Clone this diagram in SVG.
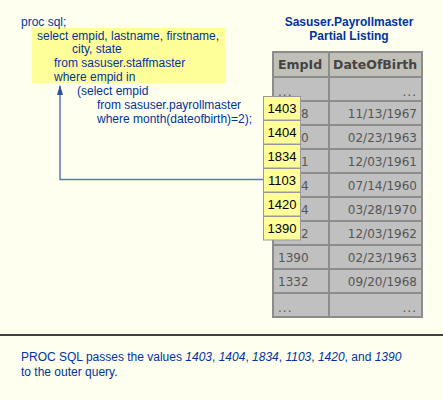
<svg xmlns="http://www.w3.org/2000/svg" width="443" height="400" viewBox="0 0 443 400">
<style>
.code{font-family:"Liberation Sans",Arial,sans-serif;font-size:12px;fill:#0033A0}
.title{font-family:"Liberation Sans",Arial,sans-serif;font-size:12px;font-weight:bold;fill:#0033A0;text-anchor:middle}
.hdr{font-family:"DejaVu Sans",Verdana,sans-serif;font-size:12.5px;font-weight:bold;fill:#444}
.cell{font-family:"DejaVu Sans",Verdana,sans-serif;font-size:12px;fill:#555}
.r{text-anchor:end}
.grid{stroke:#8C8C8C;stroke-width:2;fill:none}
.call rect{fill:#FFFF99;stroke:#999;stroke-width:1}
.call text{font-family:"Liberation Sans",Arial,sans-serif;font-size:13px;fill:#000;text-anchor:middle}
.conn{stroke:#5A78B4;stroke-width:1.5;fill:none}
.note{font-family:"Liberation Sans",Arial,sans-serif;font-size:12px;fill:#0033A0}
</style>
<defs>
<marker id="ah" markerWidth="10" markerHeight="6" refX="9" refY="3" orient="auto" markerUnits="userSpaceOnUse">
<path d="M0,0 L10,3 L0,6 z" fill="#2A50A0"/>
</marker>
</defs>
<rect width="443" height="400" fill="#FFFFF0"/>
<g id="code">
<rect x="32" y="28" width="193" height="55" fill="#FFFF99"/>
<text class="code" x="21" y="26">proc sql;</text>
<text class="code" x="37" y="39.5">select empid, lastname, firstname,</text>
<text class="code" x="72" y="53">city, state</text>
<text class="code" x="54" y="66.5">from sasuser.staffmaster</text>
<text class="code" x="54" y="81">where empid in</text>
<text class="code" x="77" y="95">(select empid</text>
<text class="code" x="97" y="109">from sasuser.payrollmaster</text>
<text class="code" x="97" y="122.5">where month(dateofbirth)=2);</text>
</g>
<g id="table">
<text class="title" x="349" y="26">Sasuser.Payrollmaster</text>
<text class="title" x="349" y="40">Partial Listing</text>
<rect x="273" y="52" width="149" height="25" fill="#C0C0B8"/>
<rect x="273" y="77" width="149" height="240" fill="#C0C0C0"/>
<rect class="grid" x="273" y="52" width="149" height="265"/>
<path class="grid" d="M329,52V317 M273,77H422 M273,101H422 M273,125H422 M273,149H422 M273,173H422 M273,197H422 M273,221H422 M273,245H422 M273,269H422 M273,293H422"/>
<text class="hdr" x="278" y="69">EmpId</text>
<text class="hdr" x="333" y="69">DateOfBirth</text>
<text class="cell" x="278" y="96" letter-spacing="1">...</text><text class="cell r" x="417" y="96" letter-spacing="1">...</text>
<text class="cell" x="301" y="117.5">8</text><text class="cell r" x="417" y="117.5">11/13/1967</text>
<text class="cell" x="301" y="141.5">0</text><text class="cell r" x="417" y="141.5">02/23/1963</text>
<text class="cell" x="301" y="165.5">1</text><text class="cell r" x="417" y="165.5">12/03/1961</text>
<text class="cell" x="301" y="189.5">4</text><text class="cell r" x="417" y="189.5">07/14/1960</text>
<text class="cell" x="301" y="213.5">4</text><text class="cell r" x="417" y="213.5">03/28/1970</text>
<text class="cell" x="301" y="237.5">2</text><text class="cell r" x="417" y="237.5">12/03/1962</text>
<text class="cell" x="278" y="261.5">1390</text><text class="cell r" x="417" y="261.5">02/23/1963</text>
<text class="cell" x="278" y="285.5">1332</text><text class="cell r" x="417" y="285.5">09/20/1968</text>
<text class="cell" x="278" y="312" letter-spacing="1">...</text><text class="cell r" x="417" y="312" letter-spacing="1">...</text>
</g>
<g id="values" class="call">
<rect x="263.5" y="96.5" width="37" height="23.5"/><text x="282" y="113">1403</text>
<rect x="263.5" y="120.5" width="37" height="23.5"/><text x="282" y="137">1404</text>
<rect x="263.5" y="144.5" width="37" height="23.5"/><text x="282" y="161">1834</text>
<rect x="263.5" y="168.5" width="37" height="23.5"/><text x="282" y="185">1103</text>
<rect x="263.5" y="192.5" width="37" height="23.5"/><text x="282" y="209">1420</text>
<rect x="263.5" y="216.5" width="37" height="23.5"/><text x="282" y="233">1390</text>
</g>
<g id="connectors">
<path class="conn" d="M263,179.5 H60 V86" marker-end="url(#ah)"/>
</g>
<g id="note">
<line x1="0" y1="335" x2="443" y2="335" stroke="#000" stroke-width="1.5"/>
<text class="note" x="21" y="361">PROC SQL passes the values <tspan font-style="italic">1403</tspan>, <tspan font-style="italic">1404</tspan>, <tspan font-style="italic">1834</tspan>, <tspan font-style="italic">1103</tspan>, <tspan font-style="italic">1420</tspan>, and <tspan font-style="italic">1390</tspan></text>
<text class="note" x="21" y="376">to the outer query.</text>
</g>
</svg>
